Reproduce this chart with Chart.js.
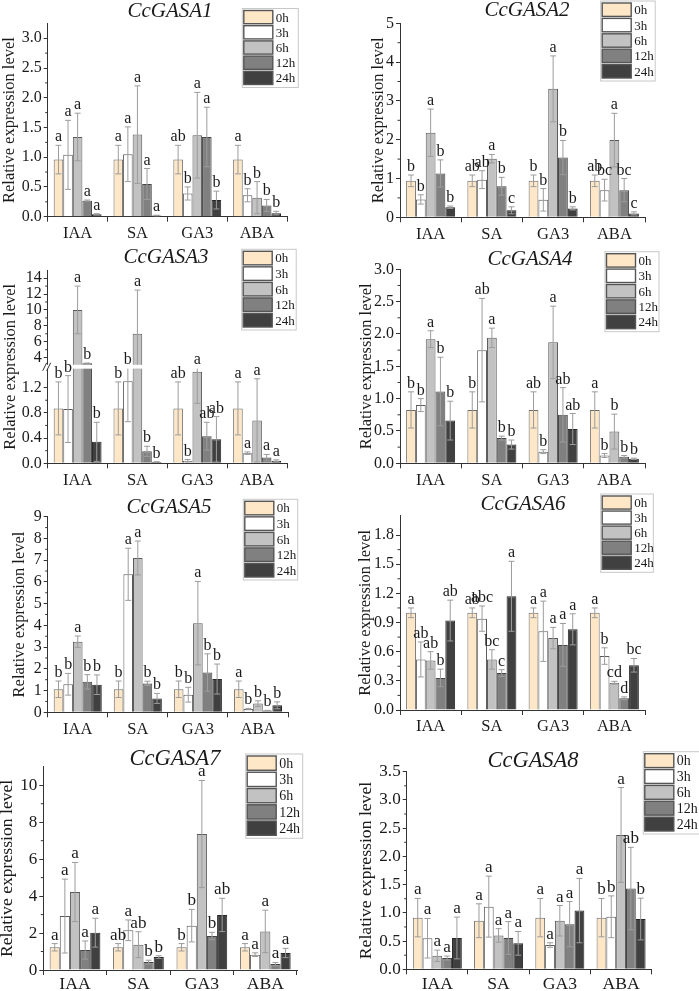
<!DOCTYPE html>
<html><head><meta charset="utf-8">
<script src="https://cdn.jsdelivr.net/npm/chart.js@4.4.1/dist/chart.umd.min.js"></script>
<style>
html,body{margin:0;padding:0;background:#fff;}
#wrap{position:relative;width:699px;height:991px;overflow:hidden;background:#fff;}
#wrap canvas{position:absolute;left:0;top:0;}
</style></head><body><div id="wrap"></div>
<script>
// ---------- DATA ----------
const categories = ['IAA', 'SA', 'GA3', 'ABA'];
const timePoints = ['0h', '3h', '6h', '12h', '24h'];
const yAxisTitle = 'Relative expression level';

// rows: IAA, SA, GA3, ABA ; columns: 0h, 3h, 6h, 12h, 24h
const gasa1Mean = [[0.96,1.04,1.34,0.27,0.04],[0.96,1.05,1.38,0.55,0.02],[0.96,0.39,1.37,1.34,0.28],[0.96,0.36,0.32,0.19,0.06]];
const gasa1Sd   = [[0.24,0.58,0.40,0.01,0.01],[0.24,0.46,0.82,0.26,0.005],[0.24,0.11,0.72,0.50,0.15],[0.24,0.11,0.27,0.10,0.03]];
const gasa1Sig  = [['a','a','a','a','a'],['a','a','a','a','a'],['ab','b','a','a','b'],['a','b','b','b','b']];
const gasa1Ticks = ['0.0','0.5','1.0','1.5','2.0','2.5','3.0'];

const gasa2Mean = [[0.94,0.46,2.18,1.13,0.26],[0.94,0.97,1.51,0.80,0.18],[0.94,0.45,3.31,1.54,0.23],[0.94,0.70,1.99,0.70,0.10]];
const gasa2Sd   = [[0.15,0.12,0.61,0.35,0.03],[0.15,0.23,0.11,0.23,0.09],[0.15,0.29,0.85,0.44,0.04],[0.15,0.28,0.69,0.30,0.04]];
const gasa2Sig  = [['b','b','a','b','b'],['ab','ab','a','b','c'],['b','b','a','b','b'],['ab','bc','a','bc','c']];
const gasa2Ticks = ['0','1','2','3','4','5'];

const gasa3Mean = [[0.87,0.86,10.0,3.3,0.34],[0.87,1.30,7.0,0.19,0.02],[0.87,0.04,1.45,0.43,0.38],[0.87,0.16,0.68,0.09,0.04]];
const gasa3Sd   = [[0.42,0.53,3.0,0.0,0.31],[0.42,0.64,5.5,0.08,0.005],[0.42,0.02,0.5,0.22,0.36],[0.42,0.02,0.66,0.05,0.015]];
const gasa3Sig  = [['b','b','a','b','b'],['b','b','a','b','b'],['ab','b','a','ab','ab'],['a','a','a','a','a']];
const gasa3Ticks = ['0.0','0.4','0.8','1.2','4','6','8','10','12','14'];

const gasa4Mean = [[0.825,0.90,1.92,1.11,0.66],[0.825,1.75,1.94,0.39,0.29],[0.825,0.18,1.87,0.75,0.53],[0.825,0.12,0.49,0.10,0.07]];
const gasa4Sd   = [[0.28,0.10,0.13,0.53,0.30],[0.28,0.80,0.15,0.03,0.07],[0.28,0.03,0.56,0.42,0.24],[0.28,0.03,0.27,0.02,0.01]];
const gasa4Sig  = [['b','b','a','b','b'],['b','ab','a','b','b'],['ab','b','a','ab','ab'],['a','b','b','b','b']];
const gasa4Ticks = ['0.0','0.5','1.0','1.5','2.0','2.5','3.0'];

const gasa5Mean = [[1.06,1.29,3.25,1.40,1.27],[1.06,6.35,7.10,1.33,0.64],[1.06,0.81,4.10,1.83,1.53],[1.06,0.15,0.40,0.08,0.32]];
const gasa5Sd   = [[0.38,0.50,0.26,0.33,0.45],[0.38,1.20,0.78,0.10,0.23],[0.38,0.34,1.92,0.86,0.69],[0.38,0.03,0.13,0.01,0.16]];
const gasa5Sig  = [['b','b','a','b','b'],['b','a','a','b','b'],['b','b','a','b','b'],['a','b','b','b','b']];
const gasa5Ticks = ['0','1','2','3','4','5','6','7','8','9'];

const gasa6Mean = [[1.0,0.52,0.51,0.33,0.92],[1.0,0.94,0.52,0.38,1.17],[1.0,0.81,0.74,0.67,0.83],[1.0,0.555,0.28,0.12,0.46]];
const gasa6Sd   = [[0.05,0.18,0.09,0.09,0.21],[0.05,0.13,0.10,0.035,0.36],[0.05,0.31,0.11,0.22,0.16],[0.05,0.085,0.015,0.015,0.07]];
const gasa6Sig  = [['a','ab','ab','b','ab'],['ab','abc','bc','c','a'],['a','a','a','a','a'],['a','b','cd','d','bc']];
const gasa6Ticks = ['0.0','0.3','0.6','0.9','1.2','1.5','1.8'];

const gasa7Mean = [[1.23,2.92,4.22,1.08,2.02],[1.23,2.15,1.37,0.43,0.70],[1.23,2.40,7.36,1.84,2.98],[1.23,0.83,2.09,0.32,0.92]];
const gasa7Sd   = [[0.20,2.0,1.6,0.49,0.78],[0.20,0.56,0.70,0.10,0.07],[0.20,0.88,2.9,0.20,0.90],[0.20,0.10,1.15,0.09,0.25]];
const gasa7Sig  = [['a','a','a','a','a'],['ab','a','ab','b','b'],['b','b','a','b','ab'],['a','a','a','a','a']];
const gasa7Ticks = ['0','2','4','6','8','10'];

const gasa8Mean = [[0.915,0.55,0.24,0.20,0.555],[0.86,1.11,0.60,0.555,0.46],[0.915,0.43,0.86,0.80,1.04],[0.915,0.93,2.38,1.43,0.89]];
const gasa8Sd   = [[0.34,0.35,0.10,0.035,0.37],[0.30,0.54,0.12,0.29,0.21],[0.34,0.04,0.27,0.40,0.57],[0.34,0.37,0.84,0.73,0.37]];
const gasa8Sig  = [['a','a','a','a','a'],['a','a','a','a','a'],['a','a','a','a','a'],['b','b','a','ab','b']];
const gasa8Ticks = ['0.0','0.5','1.0','1.5','2.0','2.5','3.0','3.5'];

// ---------- STYLE / LAYOUT ----------
const SERIF = '"Liberation Serif","Times New Roman",serif';
const fills = ['#FEE7C6', '#FFFFFF', '#C2C2C2', '#808080', '#404040'];
const borders = ['#6a6a6a', '#5a5a5a', '#5a5a5a', '#444444', '#262626'];
const W = 699, H = 991;

const panels = [
  {name:'CcGASA1', mean:gasa1Mean, sd:gasa1Sd, sig:gasa1Sig, ticks:gasa1Ticks, max:3.25,
   lay:{L:47.7,R:287,T:23.4,B:216.7,ytX:10,tx:170,ty:16.7,fs:1,xpad:2,legend:{x:242.3,y:8.5,w:56,h:79}}},
  {name:'CcGASA2', mean:gasa2Mean, sd:gasa2Sd, sig:gasa2Sig, ticks:gasa2Ticks, max:5,
   lay:{L:400,R:645,T:23.3,B:217.3,ytX:379,tx:527,ty:16,fs:1,xpad:2,legend:{x:600.7,y:1,w:54.5,h:80}}},
  {name:'CcGASA3', mean:gasa3Mean, sd:gasa3Sd, sig:gasa3Sig, ticks:gasa3Ticks, max:15,
   brk:{low:1.5, high:3.1, frac:0.5, gap:0.02},
   lay:{L:47.7,R:287,T:270.2,B:463.3,ytX:10.5,tx:166,ty:263,fs:1,xpad:2,legend:{x:241.7,y:249.3,w:54.5,h:80.7}}},
  {name:'CcGASA4', mean:gasa4Mean, sd:gasa4Sd, sig:gasa4Sig, ticks:gasa4Ticks, max:3,
   lay:{L:400,R:645,T:269.3,B:463.3,ytX:366.5,tx:530,ty:265,fs:1,xpad:2,legend:{x:605,y:251.7,w:54,h:80}}},
  {name:'CcGASA5', mean:gasa5Mean, sd:gasa5Sd, sig:gasa5Sig, ticks:gasa5Ticks, max:9,
   lay:{L:47.7,R:288,T:516.7,B:712.3,ytX:19.5,tx:169,ty:513.3,fs:1,xpad:2,legend:{x:243.3,y:499.3,w:54.4,h:80.7}}},
  {name:'CcGASA6', mean:gasa6Mean, sd:gasa6Sd, sig:gasa6Sig, ticks:gasa6Ticks, max:2.0,
   lay:{L:400,R:645,T:515.6,B:710,ytX:366,tx:523,ty:510,fs:1,xpad:2,legend:{x:600.7,y:494,w:52.6,h:78.3}}},
  {name:'CcGASA7', mean:gasa7Mean, sd:gasa7Sd, sig:gasa7Sig, ticks:gasa7Ticks, max:11,
   lay:{L:43.3,R:297,T:766.8,B:970,ytX:7.5,tx:175,ty:765,fs:1.07,xpad:-1,legend:{x:245.7,y:754,w:57,h:84.3}}},
  {name:'CcGASA8', mean:gasa8Mean, sd:gasa8Sd, sig:gasa8Sig, ticks:gasa8Ticks, max:3.5,
   lay:{L:406.7,R:651.7,T:771.7,B:969.3,ytX:366.5,tx:533,ty:766.7,fs:1.07,xpad:-1,legend:{x:643.3,y:751.7,w:60,h:82.3}}}
];

// ---------- broken linear scale ----------
class BrokenLinear extends Chart.LinearScale {
  _dec(v) {
    const b = this.options.brk;
    const lowF = (1 - b.gap) * b.frac, upF = (1 - b.gap) * (1 - b.frac);
    if (v <= b.low) return v / b.low * lowF;
    if (v >= b.high) return lowF + b.gap + (v - b.high) / (this.max - b.high) * upF;
    return lowF + (v - b.low) / (b.high - b.low) * b.gap;
  }
  getPixelForValue(v) {
    if (v === null || v === undefined || isNaN(v)) return NaN;
    return this.getPixelForDecimal(this._dec(v));
  }
  getValueForPixel(p) {
    const d = this.getDecimalForPixel(p);
    const b = this.options.brk;
    const lowF = (1 - b.gap) * b.frac, upF = (1 - b.gap) * (1 - b.frac);
    if (d <= lowF) return d / lowF * b.low;
    if (d >= lowF + b.gap) return b.high + (d - lowF - b.gap) / upF * (this.max - b.high);
    return b.low + (d - lowF) / b.gap * (b.high - b.low);
  }
}
BrokenLinear.id = 'brokenLinear';
BrokenLinear.defaults = Chart.LinearScale.defaults;
Chart.register(BrokenLinear);

Chart.defaults.font.family = SERIF;
Chart.defaults.color = '#1a1a1a';

function decor(cfg) {
  const lay = cfg.lay, fs = lay.fs;
  return {
    id: 'decor' + cfg.name,
    afterDatasetsDraw(chart) {
      const ctx = chart.ctx, ys = chart.scales.y, ca = chart.chartArea;
      ctx.save();
      chart.data.datasets.forEach((ds, i) => {
        chart.getDatasetMeta(i).data.forEach((bar, j) => {
          const v = ds.data[j], e = ds.sd[j];
          const yT = ys.getPixelForValue(v + e), yB = ys.getPixelForValue(Math.max(v - e, 0));
          ctx.strokeStyle = '#9c9c9c'; ctx.lineWidth = 1;
          ctx.beginPath();
          ctx.moveTo(bar.x, yT); ctx.lineTo(bar.x, yB);
          ctx.moveTo(bar.x - 3, yT); ctx.lineTo(bar.x + 3, yT);
          ctx.moveTo(bar.x - 3, yB); ctx.lineTo(bar.x + 3, yB);
          ctx.stroke();
        });
      });
      if (cfg.brk) {
        const yLo = ys.getPixelForValue(cfg.brk.low), yHi = ys.getPixelForValue(cfg.brk.high);
        ctx.fillStyle = '#fff';
        ctx.fillRect(ca.left - 1, yHi, ca.right - ca.left + 2, yLo - yHi);
        const ym = (yLo + yHi) / 2;
        ctx.strokeStyle = '#333'; ctx.lineWidth = 1;
        ctx.beginPath();
        for (const dx of [-3, 1]) { ctx.moveTo(ca.left + dx - 2, ym + 4); ctx.lineTo(ca.left + dx + 2, ym - 4); }
        ctx.stroke();
      }
      ctx.fillStyle = '#1a1a1a';
      ctx.font = (16 * fs) + 'px ' + SERIF;
      ctx.textAlign = 'center'; ctx.textBaseline = 'alphabetic';
      chart.data.datasets.forEach((ds, i) => {
        chart.getDatasetMeta(i).data.forEach((bar, j) => {
          const v = ds.data[j], e = ds.sd[j];
          const top = Math.min(ys.getPixelForValue(v + e), bar.y);
          ctx.fillText(ds.sig[j], bar.x, top - 4);
        });
      });
      ctx.restore();
    },
    afterDraw(chart) {
      const ctx = chart.ctx, ys = chart.scales.y, ca = chart.chartArea;
      ctx.save();
      const tv = cfg.ticks.map(parseFloat);
      ctx.strokeStyle = '#333'; ctx.lineWidth = 1;
      ctx.beginPath();
      for (let k = 0; k < tv.length - 1; k++) {
        if (cfg.brk && tv[k] < cfg.brk.low && tv[k + 1] > cfg.brk.high) continue;
        const y = ys.getPixelForValue((tv[k] + tv[k + 1]) / 2);
        ctx.moveTo(ca.left - 2.5, y); ctx.lineTo(ca.left, y);
      }
      ctx.stroke();
      ctx.fillStyle = '#1a1a1a';
      ctx.font = 'italic ' + (21 * fs) + 'px ' + SERIF;
      ctx.textAlign = 'center'; ctx.textBaseline = 'alphabetic';
      ctx.fillText(cfg.name, lay.tx, lay.ty);
      ctx.save();
      ctx.translate(lay.ytX, (ca.top + ca.bottom) / 2);
      ctx.rotate(-Math.PI / 2);
      ctx.font = (16.5 * fs) + 'px ' + SERIF;
      ctx.textBaseline = 'middle';
      ctx.fillText(yAxisTitle, 0, 0);
      ctx.restore();
      const lg = lay.legend;
      ctx.fillStyle = '#fff';
      ctx.fillRect(lg.x, lg.y, lg.w, lg.h);
      ctx.strokeStyle = '#c8c8c8'; ctx.lineWidth = 1;
      ctx.strokeRect(lg.x, lg.y, lg.w, lg.h);
      const pitch = (lg.h - 3) / 5;
      chart.data.datasets.forEach((ds, k) => {
        const y = lg.y + 2 + k * pitch;
        const sh = pitch - 2;
        ctx.fillStyle = ds.backgroundColor;
        ctx.fillRect(lg.x + 1.5, y, 29, sh);
        ctx.strokeStyle = '#555'; ctx.lineWidth = 1.4;
        ctx.strokeRect(lg.x + 1.5, y, 29, sh);
        ctx.fillStyle = '#1a1a1a';
        ctx.font = (13 * fs) + 'px ' + SERIF;
        ctx.textAlign = 'left'; ctx.textBaseline = 'middle';
        ctx.fillText(ds.label, lg.x + 33.5, y + sh / 2 + 1);
      });
      ctx.restore();
    }
  };
}

const wrap = document.getElementById('wrap');
panels.forEach(cfg => {
  const lay = cfg.lay, fs = lay.fs;
  const canvas = document.createElement('canvas');
  canvas.width = W; canvas.height = H;
  canvas.style.width = W + 'px'; canvas.style.height = H + 'px';
  wrap.appendChild(canvas);
  const datasets = timePoints.map((tp, k) => ({
    label: tp,
    data: cfg.mean.map(g => g[k]),
    sd: cfg.sd.map(g => g[k]),
    sig: cfg.sig.map(g => g[k]),
    backgroundColor: fills[k],
    borderColor: borders[k],
    borderWidth: 1,
    categoryPercentage: 0.8,
    barPercentage: 1.0
  }));
  const tickVals = cfg.ticks.map(parseFloat);
  new Chart(canvas, {
    type: 'bar',
    data: { labels: categories, datasets },
    options: {
      responsive: false, animation: false, devicePixelRatio: 1,
      layout: { padding: { left: 0, top: lay.T, right: W - lay.R, bottom: 0 } },
      plugins: { legend: { display: false }, tooltip: { enabled: false }, title: { display: false } },
      scales: {
        x: {
          afterFit: s => { s.height = H - lay.B; },
          grid: { display: true, drawOnChartArea: false, tickLength: 5, color: '#333', offset: true },
          border: { color: '#333', width: 1 },
          ticks: { font: { family: SERIF, size: 16.5 * fs }, color: '#1a1a1a', padding: lay.xpad, maxRotation: 0 }
        },
        y: {
          type: cfg.brk ? 'brokenLinear' : 'linear',
          brk: cfg.brk,
          min: 0, max: cfg.max,
          afterFit: s => { s.width = lay.L; },
          afterBuildTicks: s => { s.ticks = tickVals.map(v => ({ value: v })); },
          grid: { display: true, drawOnChartArea: false, tickLength: 4, color: '#333' },
          border: { color: '#333', width: 1 },
          ticks: { autoSkip: false, callback: (v, i) => cfg.ticks[i], font: { family: SERIF, size: 16 * fs }, color: '#1a1a1a', padding: 2 }
        }
      }
    },
    plugins: [decor(cfg)]
  });
});
</script></body></html>
